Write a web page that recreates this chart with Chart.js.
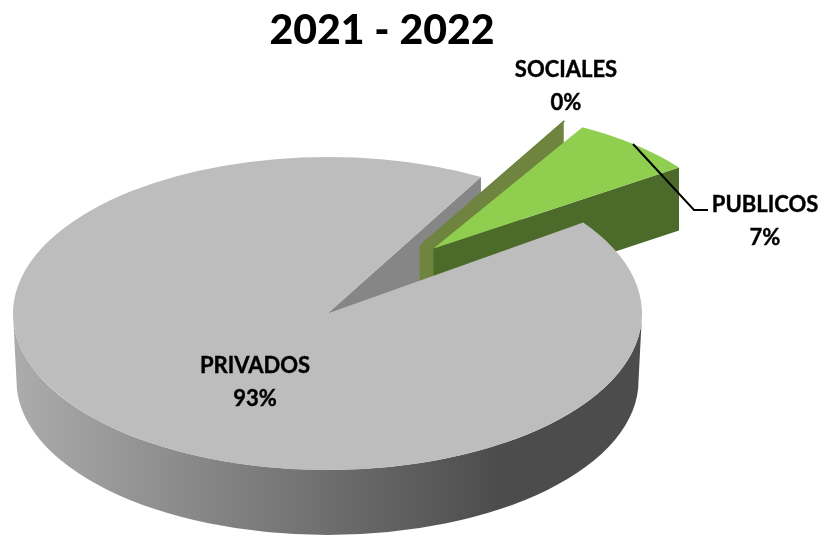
<!DOCTYPE html>
<html>
<head>
<meta charset="utf-8">
<style>
  html, body { margin: 0; padding: 0; background: #fff; }
  #wrap { width: 823px; height: 536px; position: relative; }
</style>
<script src="https://cdn.jsdelivr.net/npm/chart.js@4"></script>
</head>
<body>
<div id="wrap"><canvas id="pie"></canvas></div>
<script>
// Data
const chartTitle = '2021 - 2022';
const categories = ['PRIVADOS', 'SOCIALES', 'PUBLICOS'];
const shares = [93, 0.1, 6.9];

// Colours
const topColors = ['#bdbdbd', '#6f843f', '#8fce4f'];
const cutColors = ['#868686', '#6f843f', '#4c6a29'];

// Fake 3D settings
const pieView = {
  cx: 327.5, cy: 313.5, rx: 314.5, ry: 156.5,
  baseCx: 327.5, baseCy: 381, baseRx: 311, baseRy: 154,
  depth: 63
};
// how far each slice is pulled out of the pie, and how much it shrinks
const explode = [
  { x: 0, y: 0, scaleX: 1, scaleY: 1 },
  { x: 92, y: -68, scaleX: 0.94, scaleY: 0.915 },
  { x: 106, y: -65, scaleX: 0.96, scaleY: 0.89 }
];
const labelSpots = [
  { x: 255, y: 366 },
  { x: 566, y: 70 },
  { x: 765, y: 205 }
];

function faceGeometry(arc, i) {
  const e = explode[i];
  return {
    x: pieView.cx + e.x,
    y: pieView.cy + e.y,
    rx: pieView.rx * e.scaleX,
    ry: pieView.ry * e.scaleY
  };
}

// vertical wall under one straight cut of a slice
function drawCut(ctx, arc, i, angle) {
  const g = faceGeometry(arc, i);
  const px = g.x + g.rx * Math.cos(angle);
  const py = g.y + g.ry * Math.sin(angle);
  ctx.fillStyle = cutColors[i];
  ctx.beginPath();
  ctx.moveTo(g.x, g.y);
  ctx.lineTo(px, py);
  ctx.lineTo(px, py + pieView.depth);
  ctx.lineTo(g.x, g.y + pieView.depth);
  ctx.closePath();
  ctx.fill();
}

function drawTop(ctx, arc, i) {
  const g = faceGeometry(arc, i);
  ctx.save();
  ctx.translate(g.x, g.y);
  ctx.scale(g.rx / arc.outerRadius, g.ry / arc.outerRadius);
  ctx.translate(-arc.x, -arc.y);
  arc.draw(ctx);
  ctx.restore();
}

// front rim of the big slice, light on the left and dark on the right
function drawRim(ctx) {
  const v = pieView;
  const grad = ctx.createLinearGradient(13, 0, 500, 0);
  grad.addColorStop(0, '#acacac');
  grad.addColorStop(1, '#4c4c4c');
  ctx.fillStyle = grad;
  ctx.beginPath();
  ctx.ellipse(v.cx, v.cy, v.rx, v.ry, 0, 0, Math.PI);
  ctx.ellipse(v.baseCx, v.baseCy, v.baseRx, v.baseRy, 0, Math.PI, 0, true);
  ctx.closePath();
  ctx.fill();
}

const pie3d = {
  id: 'pie3d',
  beforeDatasetDraw(chart, args) {
    const ctx = chart.ctx;
    const arcs = args.meta.data;
    ctx.save();
    drawCut(ctx, arcs[0], 0, arcs[0].endAngle);
    drawCut(ctx, arcs[1], 1, arcs[1].startAngle);
    drawCut(ctx, arcs[2], 2, arcs[2].endAngle);
    drawTop(ctx, arcs[1], 1);
    drawTop(ctx, arcs[2], 2);
    drawRim(ctx);
    drawTop(ctx, arcs[0], 0);
    ctx.restore();
    return false;
  }
};

const sliceLabels = {
  id: 'sliceLabels',
  afterDraw(chart) {
    const ctx = chart.ctx;
    ctx.save();
    // leader line for PUBLICOS
    ctx.strokeStyle = '#000';
    ctx.lineWidth = 2;
    ctx.beginPath();
    ctx.moveTo(633, 144);
    ctx.lineTo(694, 210);
    ctx.lineTo(708, 210);
    ctx.stroke();

    ctx.fillStyle = '#000';
    ctx.strokeStyle = '#000';
    ctx.lineWidth = 0.4;
    ctx.font = 'bold 22px Lato';
    ctx.textAlign = 'center';
    ctx.textBaseline = 'middle';
    categories.forEach((name, i) => {
      const pct = Math.round(shares[i]) + '%';
      const spot = labelSpots[i];
      ctx.fillText(name, spot.x, spot.y);
      ctx.strokeText(name, spot.x, spot.y);
      ctx.fillText(pct, spot.x, spot.y + 33);
      ctx.strokeText(pct, spot.x, spot.y + 33);
    });
    ctx.restore();
  }
};

new Chart(document.getElementById('pie'), {
  type: 'pie',
  data: {
    labels: categories,
    datasets: [{
      data: shares,
      backgroundColor: topColors,
      borderWidth: 0,
      clip: false
    }]
  },
  options: {
    responsive: true,
    maintainAspectRatio: false,
    animation: false,
    rotation: 54.4,
    layout: { padding: { right: 59 } },
    plugins: {
      legend: { display: false },
      tooltip: { enabled: false },
      title: {
        display: true,
        text: chartTitle,
        color: '#000',
        font: { family: 'Lato', size: 41, weight: '900' },
        padding: { top: 6, bottom: 6 }
      }
    }
  },
  plugins: [pie3d, sliceLabels]
});
</script>
</body>
</html>
